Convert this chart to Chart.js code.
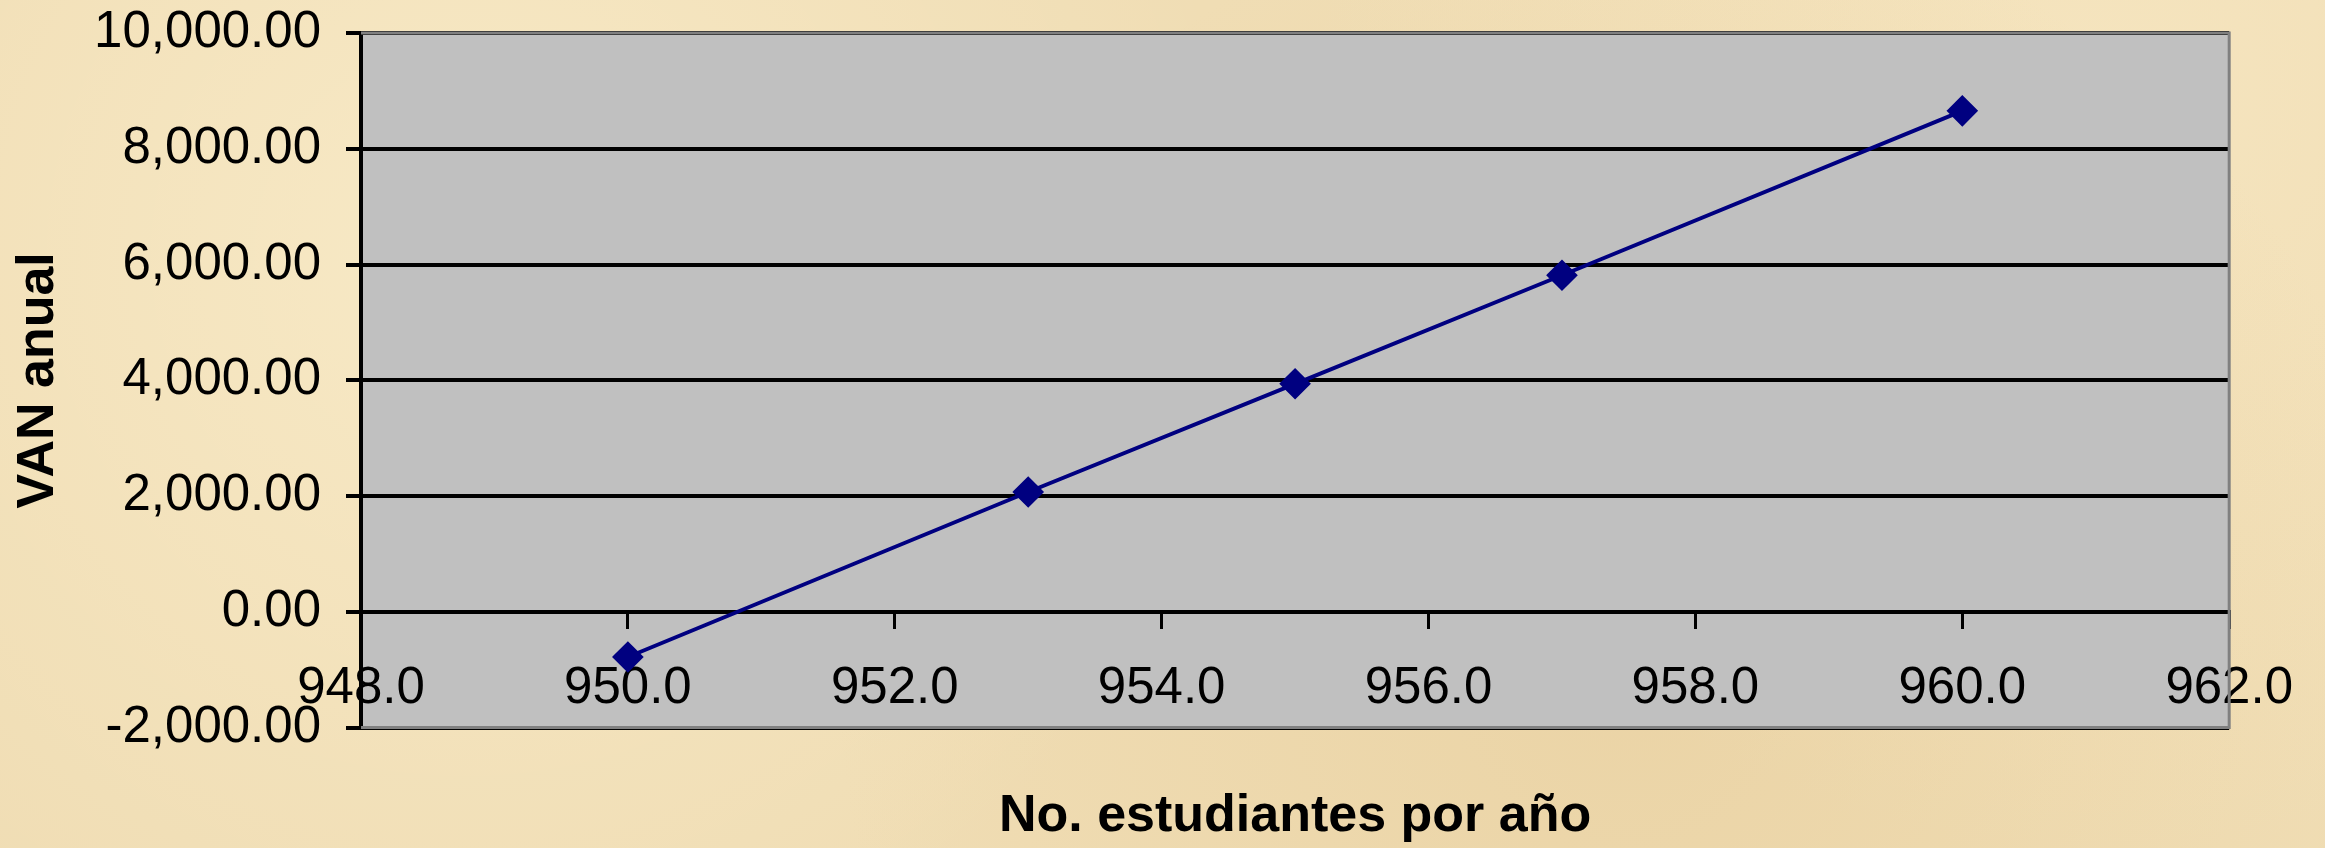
<!DOCTYPE html>
<html lang="es">
  <head>
    <meta charset="UTF-8" />
    <title>VAN anual por número de estudiantes</title>
    <style>
      html,
      body {
        margin: 0;
        padding: 0;
      }

      body {
        width: 2325px;
        height: 848px;
        overflow: hidden;
        background-color: #f0ddb4;
        background-image: radial-gradient(circle at 20% 30%, rgba(255, 245, 215, 0.5), transparent 40%),
          radial-gradient(circle at 70% 80%, rgba(225, 195, 140, 0.35), transparent 45%),
          radial-gradient(circle at 90% 10%, rgba(250, 235, 200, 0.5), transparent 35%);
      }

      .chart-box {
        position: relative;
        width: 2325px;
        height: 848px;
      }
    </style>
  </head>
  <body>
    <div class="chart-box">
      <canvas id="vanChart"></canvas>
    </div>

    <script src="https://cdn.jsdelivr.net/npm/chart.js"></script>
    <script>
      // Datos
      const estudiantes = [950, 953, 955, 957, 960];
      const vanAnual = [-780, 2070, 3940, 5815, 8655];

      // Marcas de los ejes
      const xTickValues = [948, 950, 952, 954, 956, 958, 960, 962];
      const yTickValues = [-2000, 0, 2000, 4000, 6000, 8000, 10000];

      Chart.defaults.font.family = '"Liberation Sans", Arial, sans-serif';
      Chart.defaults.color = "#000";

      // fondo gris del área de trazado y marco gris
      const plotFrame = {
        id: "plotFrame",
        beforeDraw(chart) {
          const { ctx, chartArea: a } = chart;
          ctx.save();
          ctx.fillStyle = "#c0c0c0";
          ctx.fillRect(a.left, a.top, a.right - a.left, a.bottom - a.top);
          ctx.restore();
        },
        beforeDatasetsDraw(chart) {
          const { ctx, chartArea: a } = chart;
          ctx.save();
          ctx.strokeStyle = "#808080";
          ctx.lineWidth = 3;
          ctx.beginPath();
          ctx.moveTo(a.left, a.top);
          ctx.lineTo(a.right, a.top);
          ctx.lineTo(a.right, a.bottom);
          ctx.lineTo(a.left, a.bottom);
          ctx.stroke();
          ctx.restore();
        },
      };

      const ctx = document.getElementById("vanChart").getContext("2d");
      new Chart(ctx, {
        type: "line",
        data: {
          datasets: [
            {
              label: "VAN anual",
              data: estudiantes.map((e, i) => ({ x: e, y: vanAnual[i] })),
              xAxisID: "x",
              yAxisID: "y",
              borderColor: "#000080",
              backgroundColor: "#000080",
              borderWidth: 4,
              tension: 0,
              pointStyle: "rectRot",
              pointRadius: 13,
              pointBackgroundColor: "#000080",
              pointBorderColor: "#000080",
            },
          ],
        },
        options: {
          responsive: true,
          maintainAspectRatio: false,
          animation: false,
          layout: {
            padding: { top: 33, right: 93, bottom: 0, left: 0 },
          },
          plugins: {
            legend: { display: false },
            tooltip: { enabled: false },
          },
          scales: {
            x: {
              type: "linear",
              position: { y: 0 },
              min: 948,
              max: 962,
              afterBuildTicks: (s) => {
                s.ticks = xTickValues.map((v) => ({ value: v }));
              },
              ticks: {
                padding: 32,
                font: { size: 51 },
                callback: (v) => Number(v).toFixed(1),
              },
              grid: {
                drawOnChartArea: false,
                drawTicks: true,
                tickLength: 15,
                color: "#000",
                lineWidth: 3,
              },
              border: { color: "#000", width: 4 },
            },
            xTitle: {
              type: "linear",
              position: "bottom",
              min: 948,
              max: 962,
              grid: { display: false, drawTicks: false },
              ticks: { display: false },
              border: { display: false },
              title: {
                display: true,
                text: "No. estudiantes por año",
                font: { size: 52, weight: "bold" },
                padding: { top: 58, bottom: 0 },
              },
            },
            y: {
              type: "linear",
              position: "left",
              min: -2000,
              max: 10000,
              afterBuildTicks: (s) => {
                s.ticks = yTickValues.map((v) => ({ value: v }));
              },
              afterFit: (s) => {
                s.width = 361;
                s.paddingTop = 0;
                s.paddingBottom = 0;
              },
              ticks: {
                padding: 25,
                font: { size: 51 },
                callback: (v) =>
                  Number(v).toLocaleString("en-US", {
                    minimumFractionDigits: 2,
                    maximumFractionDigits: 2,
                  }),
              },
              grid: {
                color: "#000",
                lineWidth: 4,
                tickLength: 15,
              },
              border: { color: "#000", width: 4 },
              title: {
                display: true,
                text: "VAN anual",
                font: { size: 52, weight: "bold" },
                padding: { top: 7, bottom: 0 },
              },
            },
          },
        },
        plugins: [plotFrame],
      });
    </script>
  </body>
</html>
